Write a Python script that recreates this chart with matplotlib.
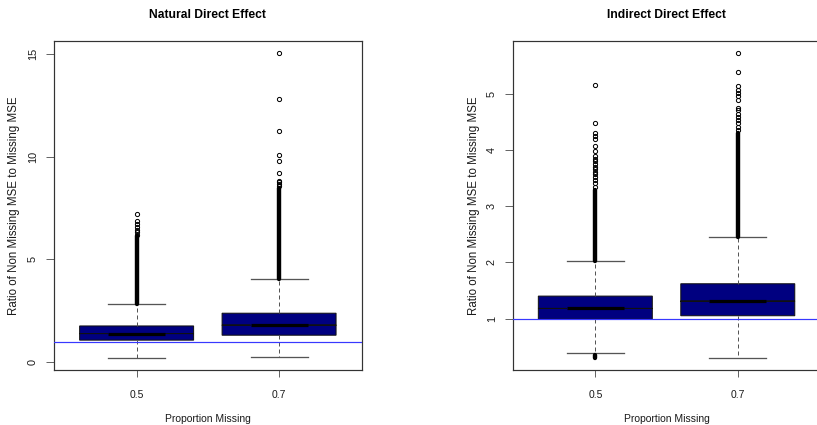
import matplotlib
matplotlib.use("Agg")
import matplotlib.pyplot as plt
from matplotlib import font_manager

# ---------------- data ----------------
groups = ["0.5", "0.7"]

# Natural Direct Effect
nde_whislo = [0.21, 0.24]
nde_q1 = [1.07, 1.31]
nde_med = [1.39, 1.80]
nde_q3 = [1.76, 2.38]
nde_whishi = [2.83, 4.03]
nde_fliers_05 = [6.18, 6.31, 6.45, 6.58, 6.74, 6.87, 7.22]
nde_fliers_07 = [8.55, 8.65, 8.75, 8.83, 9.22, 9.77, 10.1, 11.25, 12.82, 15.03]
nde_dense_05 = [(2.83, 6.13)]          # solid run of overlapping outliers
nde_dense_07 = [(4.03, 8.45)]

# Indirect Direct Effect
ide_whislo = [0.38, 0.30]
ide_q1 = [0.99, 1.05]
ide_med = [1.18, 1.31]
ide_q3 = [1.40, 1.62]
ide_whishi = [2.02, 2.45]
ide_fliers_05 = [3.35, 3.41, 3.47, 3.53, 3.57, 3.62, 3.66, 3.71, 3.75, 3.80,
                 3.84, 3.90, 3.98, 4.08, 4.20, 4.26, 4.30, 4.49, 5.16]
ide_fliers_07 = [4.36, 4.41, 4.48, 4.54, 4.59, 4.65, 4.71, 4.75, 4.89, 4.97,
                 5.02, 5.08, 5.14, 5.39, 5.73]
ide_dense_05 = [(2.02, 3.30), (0.30, 0.35)]
ide_dense_07 = [(2.45, 4.31)]

ref_line = 1.0
titles = ["Natural Direct Effect", "Indirect Direct Effect"]
xlabel = "Proportion Missing"
ylabel = "Ratio of Non Missing MSE to Missing MSE"
nde_yticks = [0, 5, 10, 15]
ide_yticks = [1, 2, 3, 4, 5]

# ---------------- fonts ----------------
def has_font(name):
    try:
        font_manager.findfont(font_manager.FontProperties(family=name),
                              fallback_to_default=False)
        return True
    except Exception:
        return False

REG = "Liberation Sans" if has_font("Liberation Sans") else "DejaVu Sans"

DPI = 100
W, H = 817, 425
fig = plt.figure(figsize=(W / DPI, H / DPI), dpi=DPI)

px = 72.0 / DPI  # points per pixel
TXT = "#1a1a1a"


def panel(left_px, whislo, q1, med, q3, whishi, fliers, dense, yticks,
          title, ylabel_x_px):
    ax = fig.add_axes([left_px / W, (H - 370) / H, 307.7 / W, 329 / H])
    stats = []
    for i in range(len(groups)):
        stats.append(dict(med=med[i], q1=q1[i], q3=q3[i],
                          whislo=whislo[i], whishi=whishi[i],
                          cilo=med[i] - 0.0005, cihi=med[i] + 0.0005,
                          fliers=fliers[i]))
    ax.bxp(stats, positions=[1, 2], widths=0.8, capwidths=0.4,
           patch_artist=True, shownotches=True, showfliers=True,
           boxprops=dict(facecolor="#000080", edgecolor="#111111",
                         linewidth=1.0 * px),
           whiskerprops=dict(color="#555555", linewidth=1.0 * px,
                             linestyle=(0, (4, 3))),
           capprops=dict(color="#555555", linewidth=1.3 * px),
           medianprops=dict(color="black", linewidth=3.2 * px,
                            solid_capstyle="butt"),
           flierprops=dict(marker="o", markerfacecolor="none",
                           markeredgecolor="black", markersize=4.2 * px,
                           markeredgewidth=1.0 * px, linestyle="none"))
    for i, runs in enumerate(dense):
        for lo, hi in runs:
            ax.vlines(i + 1, lo, hi, color="black", linewidth=4.4 * px,
                      capstyle="round", zorder=3)
    ax.axhline(ref_line, color="#3838ff", linewidth=1.2 * px, zorder=4)

    # R style axis range: data range extended by 4%
    allv = list(whislo) + list(whishi)
    for f in fliers:
        allv += list(f)
    for runs in dense:
        for lo, hi in runs:
            allv += [lo, hi]
    lo, hi = min(allv), max(allv)
    ext = 0.04 * (hi - lo)
    ax.set_ylim(lo - ext, hi + ext)
    ax.set_xlim(0.42, 2.58)

    ax.set_xticks([1, 2])
    ax.set_xticklabels(groups, fontfamily=REG, fontsize=7.5, color=TXT)
    ax.set_yticks(yticks)
    ax.set_yticklabels([str(t) for t in yticks], fontfamily=REG,
                       fontsize=7.8, color=TXT, rotation=90, va="center")
    ax.tick_params(axis="x", direction="out", length=5, width=1.0 * px,
                   color="#666666", pad=9.5)
    ax.tick_params(axis="y", direction="out", length=5.5, width=1.0 * px,
                   color="#666666", pad=6)
    for s in ax.spines.values():
        s.set_color("#333333")
        s.set_linewidth(1.2 * px)

    cx = (left_px + 153.8) / W
    fig.text(cx, 1 - 15 / H, title, ha="center", va="center",
             fontfamily=REG, fontweight="bold", fontsize=8.7, color="black")
    fig.text(cx, 1 - 422.0 / H, xlabel, ha="center",
             va="baseline", fontfamily=REG, fontsize=7.5, color=TXT)
    fig.text(ylabel_x_px / W, 1 - 205.5 / H, ylabel, ha="center", va="center",
             rotation=90, fontfamily=REG, fontsize=8.3, color=TXT)
    return ax


panel(54.0, nde_whislo, nde_q1, nde_med, nde_q3, nde_whishi,
      [nde_fliers_05, nde_fliers_07], [nde_dense_05, nde_dense_07],
      nde_yticks, titles[0], 14.0)
panel(512.7, ide_whislo, ide_q1, ide_med, ide_q3, ide_whishi,
      [ide_fliers_05, ide_fliers_07], [ide_dense_05, ide_dense_07],
      ide_yticks, titles[1], 473.5)

fig.savefig("out.png", dpi=DPI)
